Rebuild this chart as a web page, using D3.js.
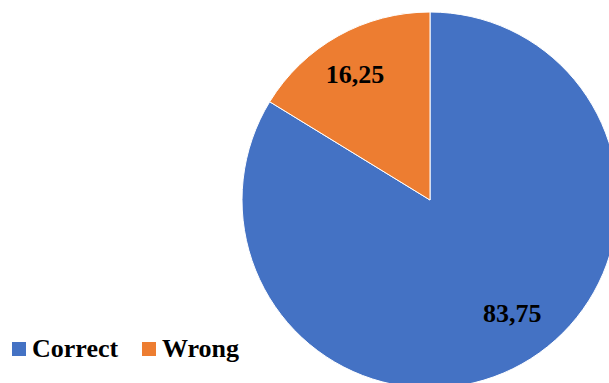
<!DOCTYPE html>
<html>
<head>
<meta charset="utf-8">
<script src="https://cdn.jsdelivr.net/npm/d3@7"></script>
<style>
  html, body { margin: 0; padding: 0; background: #fff; overflow: hidden; }
  svg { display: block; }
</style>
</head>
<body>
<svg id="chart" width="609" height="383"></svg>
<script>
// Share of answers, in percent
const categories = ["Correct", "Wrong"];
const values = [83.75, 16.25];
const valueLabels = ["83,75", "16,25"];
const colors = ["#4472C4", "#ED7D31"];

const width = 609, height = 383;
const cx = 430, cy = 200, radius = 188;
const font = "'Liberation Serif', 'Times New Roman', serif";

const svg = d3.select("#chart");

const color = d3.scaleOrdinal().domain(categories).range(colors);

const pie = d3.pie().sort(null).value(d => d.value);
const data = categories.map((c, i) => ({ name: c, value: values[i], label: valueLabels[i] }));
const arcs = pie(data);

const arc = d3.arc().innerRadius(0).outerRadius(radius);

const g = svg.append("g").attr("transform", `translate(${cx},${cy})`);

g.selectAll("path.slice")
  .data(arcs)
  .join("path")
  .attr("class", "slice")
  .attr("d", arc)
  .attr("fill", d => color(d.data.name))
  .attr("stroke", "#fff")
  .attr("stroke-width", 1);

// Value labels placed inside each slice; the large slice's label sits
// a little closer to the centre and further round toward the lower right
g.selectAll("text.value")
  .data(arcs)
  .join("text")
  .attr("class", "value")
  .attr("transform", d => {
    const big = (d.endAngle - d.startAngle) > Math.PI;
    const mid = (d.startAngle + d.endAngle) / 2 + (big ? -0.118 : -0.027);
    const r = radius * (big ? 0.745 : 0.78);
    const labelArc = d3.arc().innerRadius(r).outerRadius(r);
    const [x, y] = labelArc.centroid({ startAngle: mid, endAngle: mid });
    return `translate(${x},${y})`;
  })
  .attr("text-anchor", "middle")
  .attr("dy", "0.35em")
  .attr("font-family", font)
  .attr("font-weight", "bold")
  .attr("font-size", 26)
  .attr("fill", "#000")
  .text(d => d.data.label);

// Legend
const legend = svg.append("g").attr("transform", "translate(12,342)");
const legendX = d3.scaleOrdinal().domain(categories).range([0, 130]);
const item = legend.selectAll("g.item")
  .data(categories)
  .join("g")
  .attr("class", "item")
  .attr("transform", d => `translate(${legendX(d)},0)`);

item.append("rect")
  .attr("width", 14)
  .attr("height", 14)
  .attr("fill", d => color(d));

item.append("text")
  .attr("x", 20)
  .attr("y", 15)
  .attr("font-family", font)
  .attr("font-weight", "bold")
  .attr("font-size", 26)
  .attr("fill", "#000")
  .text(d => d);
</script>
</body>
</html>
